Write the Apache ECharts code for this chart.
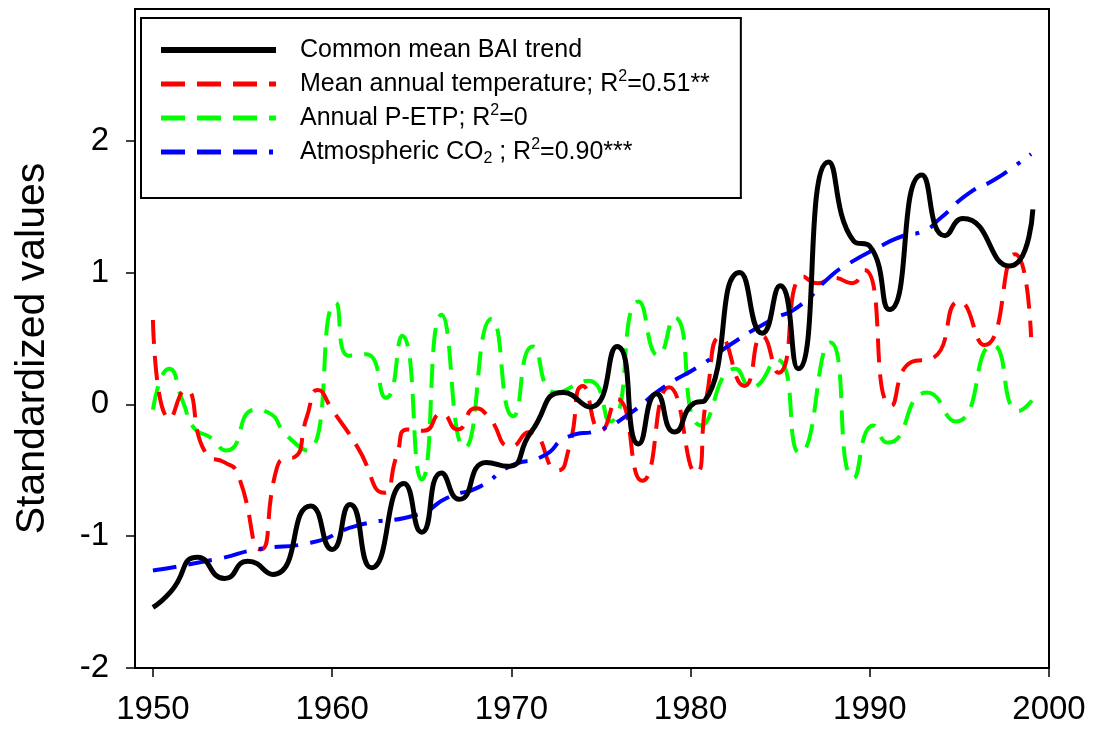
<!DOCTYPE html>
<html>
<head>
<meta charset="utf-8">
<script src="https://cdn.jsdelivr.net/npm/echarts@6/dist/echarts.min.js"></script>
<style>
html,body{margin:0;padding:0;background:#fff;}
#chart{width:1094px;height:734px;}
</style>
</head>
<body>
<div id="chart"></div>
<script>
// ---- data: [year, standardized value] ----
const baiTrend = [[1950,-1.54],[1951,-1.42],[1952.5,-1.16],[1954.0,-1.32],[1955.3,-1.19],[1956.7,-1.29],[1958.8,-0.77],[1960.0,-1.10],[1961.0,-0.76],[1962.2,-1.24],[1964.0,-0.60],[1965.0,-0.97],[1966.1,-0.52],[1967.1,-0.72],[1968.6,-0.44],[1969.8,-0.47],[1971.1,-0.21],[1972.9,0.09],[1974.4,-0.02],[1975.9,0.44],[1977.1,-0.30],[1978.1,0.08],[1979.1,-0.21],[1980.2,0.01],[1980.8,0.03],[1982.75,1.00],[1984.0,0.54],[1985.0,0.90],[1986.0,0.27],[1987.7,1.84],[1989.1,1.24],[1990.0,1.20],[1991.1,0.72],[1992.9,1.74],[1994.2,1.28],[1995.2,1.41],[1997.8,1.05],[1999.1,1.48]];
const temperature = [[1950,0.64],[1950.95,-0.11],[1951.8,0.11],[1953.0,-0.38],[1954.0,-0.44],[1954.7,-0.52],[1956.0,-1.10],[1956.9,-0.49],[1957.4,-0.41],[1957.9,-0.40],[1958.6,-0.09],[1959.2,0.11],[1960.0,-0.04],[1961.4,-0.32],[1962.9,-0.67],[1963.6,-0.39],[1964.2,-0.19],[1965.1,-0.20],[1966.1,-0.07],[1967.0,-0.19],[1968.0,-0.03],[1968.7,-0.09],[1970.0,-0.32],[1971.0,-0.21],[1972.6,-0.50],[1973.2,-0.34],[1974.0,0.14],[1975.0,-0.20],[1975.9,0.04],[1977.3,-0.58],[1978.8,0.13],[1980.3,-0.52],[1980.9,0.06],[1981.7,0.51],[1983.0,0.14],[1984.0,0.52],[1984.9,0.24],[1986.3,0.97],[1987.1,0.92],[1988.0,0.96],[1989.0,0.92],[1989.7,1.02],[1991.2,-0.01],[1992.3,0.32],[1993.5,0.35],[1995.0,0.78],[1996.4,0.45],[1998.1,1.14],[1999.0,0.51]];
const pEtp = [[1950,-0.04],[1950.9,0.27],[1951.7,0.01],[1952.3,-0.18],[1953.2,-0.25],[1954.1,-0.35],[1955.7,-0.04],[1956.4,-0.06],[1957.5,-0.24],[1958.6,-0.35],[1960.2,0.77],[1960.9,0.37],[1961.9,0.38],[1963.0,0.05],[1963.9,0.52],[1965.0,-0.57],[1966.1,0.68],[1967.4,-0.33],[1968.9,0.65],[1970.1,-0.09],[1971.2,0.44],[1972.5,0.09],[1974.3,0.18],[1975.5,-0.13],[1977.1,0.78],[1978.2,0.37],[1979.1,0.66],[1980.6,-0.16],[1982.5,0.27],[1983.4,0.13],[1984.8,0.34],[1986.1,-0.37],[1987.8,0.47],[1989.1,-0.56],[1990.2,-0.16],[1991.0,-0.29],[1993.2,0.09],[1994.8,-0.13],[1996.85,0.45],[1998.3,-0.05],[1999.05,0.03]];
const co2 = [[1950,-1.26],[1953.7,-1.17],[1955.8,-1.10],[1958.8,-1.05],[1961.4,-0.92],[1964.9,-0.83],[1966.4,-0.71],[1968.3,-0.62],[1969.9,-0.47],[1971.8,-0.39],[1973.1,-0.25],[1975.0,-0.19],[1976.5,-0.08],[1978.5,0.13],[1980.6,0.30],[1982.4,0.47],[1984.5,0.64],[1986.0,0.74],[1987.8,0.97],[1988.6,1.05],[1990.6,1.20],[1991.9,1.28],[1992.9,1.31],[1994.0,1.42],[1995.5,1.60],[1996.9,1.70],[1998.1,1.81],[1999.0,1.90]];

const xTicks = [1950,1960,1970,1980,1990,2000];
const yTicks = [-2,-1,0,1,2];
const seriesNames = ['Common mean BAI trend','Mean annual temperature','Annual P-ETP','Atmospheric CO2'];
const legendLabels = [
  'Common mean BAI trend',
  'Mean annual temperature; R{sup|2}=0.51**',
  'Annual P-ETP; R{sup|2}=0',
  'Atmospheric CO{sub|2} ; R{sup|2}=0.90***'
];
const seriesColors = ['#000000','#ff0000','#00ff00','#0000ff'];
const seriesWidths = [5,4,4,4];
const seriesDashes = ['solid',[24,12],[24,12],[24,12,24,12,24,12,4,12]];

const FONT = 'Liberation Sans, Arial, sans-serif';
const chart = echarts.init(document.getElementById('chart'), null, {renderer:'canvas'});

function lineSeries(i, data, z){
  return {
    name: seriesNames[i], type:'line', data: data, smooth:0.6, symbol:'none', showSymbol:false,
    z: z, silent:true,
    lineStyle:{color:seriesColors[i], width:seriesWidths[i], type:seriesDashes[i], cap:'butt'},
    itemStyle:{color:seriesColors[i]}
  };
}

chart.setOption({
  animation:false,
  backgroundColor:'#fff',
  grid:{left:135, right:45, top:9, bottom:66, show:true, borderColor:'#000', borderWidth:2, backgroundColor:'transparent'},
  xAxis:{
    type:'value', min:1949, max:2000,
    axisLine:{show:true, onZero:false, lineStyle:{color:'#000', width:2}},
    axisTick:{show:true, inside:false, length:9, customValues:xTicks, lineStyle:{color:'#000', width:1.5}},
    axisLabel:{customValues:xTicks, fontSize:33, color:'#000', fontFamily:FONT, margin:25,
      formatter:function(v){ return String(v); }},
    splitLine:{show:false}
  },
  yAxis:{
    type:'value', min:-2, max:3,
    axisLine:{show:true, onZero:false, lineStyle:{color:'#000', width:2}},
    axisTick:{show:true, inside:false, length:9, customValues:yTicks, lineStyle:{color:'#000', width:1.5}},
    axisLabel:{customValues:yTicks, fontSize:33, color:'#000', fontFamily:FONT, margin:26},
    splitLine:{show:false},
    name:'Standardized values', nameLocation:'middle', nameGap:82,
    nameTextStyle:{fontSize:41, color:'#000', fontFamily:FONT, padding:[0,20,0,0]}
  },
  legend:{
    orient:'vertical', left:141, top:18,
    itemWidth:115, itemHeight:30, itemGap:4,
    padding:[17,31,31,17],
    borderColor:'#000', borderWidth:2, backgroundColor:'#fff',
    selectedMode:false,
    data: seriesNames.map(function(n,i){
      return {name:n,
        itemStyle:{color:'rgba(0,0,0,0)', borderColor:'rgba(0,0,0,0)', borderWidth:0},
        lineStyle:{color:seriesColors[i], width:seriesWidths[i]+1, type:seriesDashes[i], cap:'butt'}};
    }),
    formatter: function(n){ return legendLabels[seriesNames.indexOf(n)]; },
    textStyle:{
      fontSize:25, fontFamily:FONT, color:'#000', lineHeight:30, padding:[0,0,0,19],
      rich:{
        sup:{fontSize:16, lineHeight:16, verticalAlign:'top', fontFamily:FONT, color:'#000'},
        sub:{fontSize:16, lineHeight:16, verticalAlign:'bottom', fontFamily:FONT, color:'#000'}
      }
    }
  },
  series:[
    lineSeries(1, temperature, 3),
    lineSeries(2, pEtp, 2),
    lineSeries(3, co2, 4),
    lineSeries(0, baiTrend, 5)
  ]
});
</script>
</body>
</html>
